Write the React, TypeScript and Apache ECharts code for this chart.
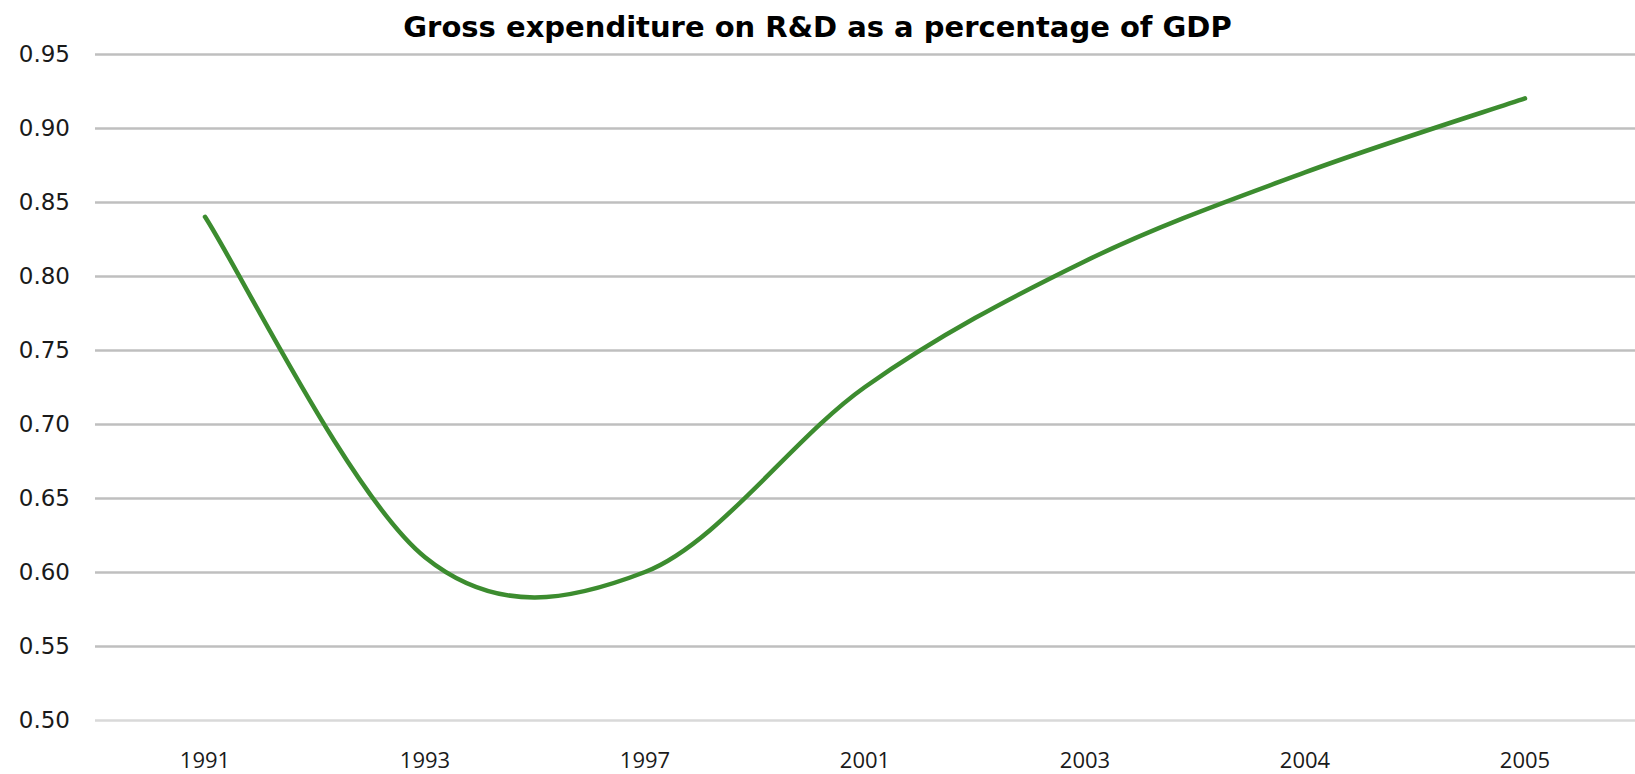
import React, { useEffect, useRef } from "react";
import * as echarts from "echarts";

const categories = ["1991", "1993", "1997", "2001", "2003", "2004", "2005"];
const values = [0.84, 0.61, 0.6, 0.725, 0.81, 0.87, 0.92];
const titleText = "Gross expenditure on R&D as a percentage of GDP";

// Excel-style smoothed line: Catmull-Rom cubic Bezier through pixel points
function smoothPath(pts: number[][]): string {
  const n = pts.length;
  if (!n) return "";
  let d = `M${pts[0][0]},${pts[0][1]}`;
  for (let i = 0; i < n - 1; i++) {
    const p0 = pts[Math.max(0, i - 1)];
    const p1 = pts[i];
    const p2 = pts[i + 1];
    const p3 = pts[Math.min(n - 1, i + 2)];
    const c1x = p1[0] + (p2[0] - p0[0]) / 6;
    const c1y = p1[1] + (p2[1] - p0[1]) / 6;
    const c2x = p2[0] - (p3[0] - p1[0]) / 6;
    const c2y = p2[1] - (p3[1] - p1[1]) / 6;
    d += ` C${c1x},${c1y} ${c2x},${c2y} ${p2[0]},${p2[1]}`;
  }
  return d;
}

export default function App() {
  const ref = useRef<HTMLDivElement>(null);
  useEffect(() => {
    if (!ref.current) return;
    const chart = echarts.init(ref.current, undefined, { renderer: "svg" });
    const splitColors = ["#d9d9d9"];
    for (let i = 0; i < 9; i++) splitColors.push("#bfbfbf");
    chart.setOption({
      animation: false,
      backgroundColor: "#ffffff",
      title: {
        text: titleText,
        left: "center",
        top: 7,
        textStyle: {
          fontFamily: "DejaVu Sans",
          fontWeight: "bold",
          fontSize: 29,
          color: "#000000",
        },
      },
      grid: { left: 95, top: 54, width: 1543, bottom: 54, containLabel: false },
      xAxis: {
        type: "category",
        data: categories,
        boundaryGap: true,
        axisLine: { show: false },
        axisTick: { show: false },
        axisLabel: {
          fontFamily: "Open Sans",
          fontSize: 22,
          lineHeight: 22,
          color: "#1a1a1a",
          margin: 28,
        },
      },
      yAxis: {
        type: "value",
        min: 0.5,
        max: 0.95,
        interval: 0.05,
        axisLine: { show: false },
        axisTick: { show: false },
        axisLabel: {
          fontFamily: "DejaVu Sans",
          fontSize: 23,
          color: "#1a1a1a",
          margin: 25,
          formatter: (v: number) => v.toFixed(2),
        },
        splitLine: { show: true, lineStyle: { color: splitColors, width: 2.5 } },
      },
      series: [
        {
          type: "custom",
          data: values.map((v, i) => [i, v]),
          encode: { x: 0, y: 1 },
          renderItem: (params: any, api: any) => {
            if (params.dataIndex !== 0) return null;
            const pts = values.map((v, i) => api.coord([i, v]));
            return {
              type: "path",
              shape: { pathData: smoothPath(pts) },
              style: {
                fill: "none",
                stroke: "#3c8c2f",
                lineWidth: 4.5,
                lineCap: "round",
                lineJoin: "round",
              },
            };
          },
        },
      ],
    });
    return () => chart.dispose();
  }, []);
  return (
    <div
      ref={ref}
      style={{ position: "fixed", left: 0, top: 0, width: 1635, height: 774 }}
    />
  );
}
